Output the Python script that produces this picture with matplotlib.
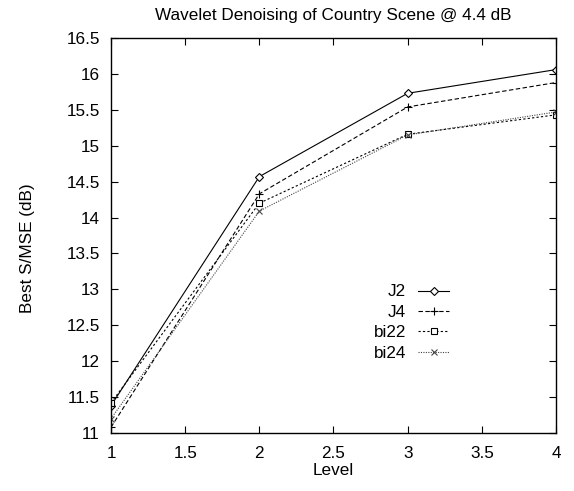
import matplotlib
matplotlib.use("Agg")
import matplotlib.pyplot as plt

plt.rcParams['font.family'] = ['Liberation Sans', 'DejaVu Sans']

levels = [1, 2, 3, 4]
j2 = [11.38, 14.57, 15.73, 16.06]
j4 = [11.08, 14.33, 15.54, 15.88]
bi22 = [11.42, 14.20, 15.16, 15.43]
bi24 = [11.20, 14.09, 15.15, 15.47]

x_ticks = [1, 1.5, 2, 2.5, 3, 3.5, 4]
x_ticklabels = ['1', '1.5', '2', '2.5', '3', '3.5', '4']
y_ticks = [11, 11.5, 12, 12.5, 13, 13.5, 14, 14.5, 15, 15.5, 16, 16.5]
y_ticklabels = ['11', '11.5', '12', '12.5', '13', '13.5', '14', '14.5', '15', '15.5', '16', '16.5']

W, H = 574, 491
fig = plt.figure(figsize=(W / 100, H / 100), dpi=100)
L, R, T, B = 111, 556, 38, 433
ax = fig.add_axes([L / W, 1 - B / H, (R - L) / W, (B - T) / H])

lw = 0.8
ax.plot(levels, j2, color='black', lw=lw, linestyle='-', marker='D', markersize=3.8,
        markerfacecolor='white', markeredgewidth=0.8, label='J2')
ax.plot(levels, j4, color='black', lw=lw, linestyle=(0, (4, 2.2)), marker='+', markersize=6,
        markeredgewidth=0.8, label='J4')
ax.plot(levels, bi22, color='black', lw=lw, linestyle=(0, (2, 2)), marker='s', markersize=5,
        markerfacecolor='white', markeredgewidth=0.8, label='bi22')
ax.plot(levels, bi24, color='#444444', lw=lw, linestyle=(0, (1, 1.2)), marker='x', markersize=5,
        markeredgewidth=0.8, label='bi24')

ax.set_xlim(1, 4)
ax.set_ylim(11, 16.5)
ax.set_xticks(x_ticks)
ax.set_xticklabels(x_ticklabels)
ax.set_yticks(y_ticks)
ax.set_yticklabels(y_ticklabels)

ax.tick_params(direction='in', length=5, width=0.8, top=True, right=True,
               labelsize=12.3)
ax.tick_params(axis='x', pad=9)
ax.tick_params(axis='y', pad=8)
for s in ax.spines.values():
    s.set_linewidth(1.0)

ax.set_title('Wavelet Denoising of Country Scene @ 4.4 dB', fontsize=12.3, pad=13)
ax.set_xlabel('Level', fontsize=12.3, labelpad=2)
ax.set_ylabel('Best S/MSE (dB)', fontsize=12.3)
ax.yaxis.set_label_coords((35 - L) / (R - L), (B - 248) / (B - T))

leg = ax.legend(loc='upper right', bbox_to_anchor=(449 / W, 1 - 284.5 / H),
                bbox_transform=fig.transFigure, frameon=False, markerfirst=False,
                fontsize=12.3, handlelength=1.8, handletextpad=0.7,
                labelspacing=0.32, borderpad=0, borderaxespad=0)

fig.savefig('out.png', dpi=100)
